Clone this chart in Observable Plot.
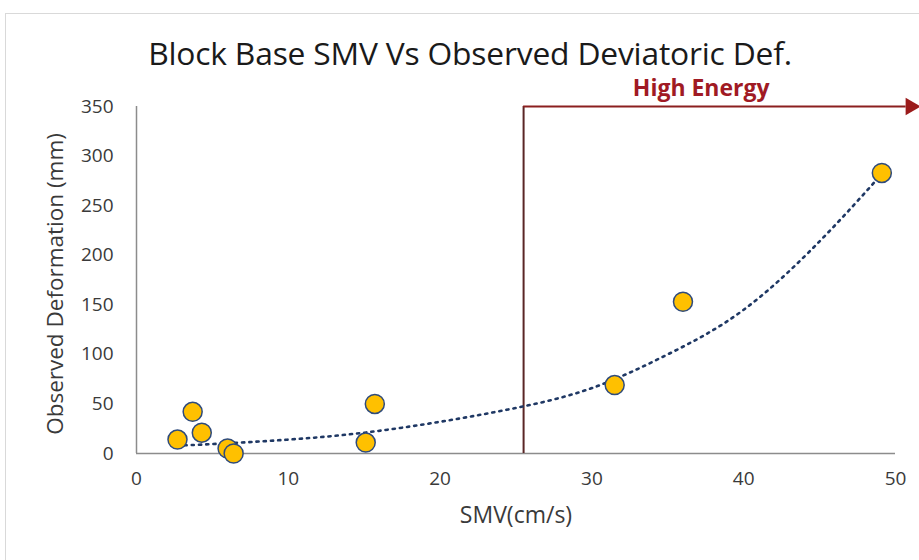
<!DOCTYPE html>
<html><head><meta charset="utf-8">
<script src="https://cdn.jsdelivr.net/npm/d3@7"></script>
<script src="https://cdn.jsdelivr.net/npm/@observablehq/plot@0.6"></script>
<style>
body{margin:0;background:#fff;}
#wrap{position:relative;width:919px;height:560px;overflow:hidden;}
#box{position:absolute;left:5px;top:13px;width:930px;height:560px;border-top:1px solid #d9d9d9;border-left:1px solid #d9d9d9;}
#title{position:absolute;left:0;width:940px;top:37px;line-height:31px;text-align:center;font-family:"Open Sans";font-size:31.8px;letter-spacing:-0.2px;color:#1a1a1a;}
#chart{position:absolute;left:0;top:0;}
</style></head><body>
<div id="wrap"><div id="box"></div><div id="title">Block Base SMV Vs Observed Deviatoric Def.</div><div id="chart"></div></div>
<script>
// Observed points
const smv = [2.7, 3.7, 4.3, 6.0, 6.4, 15.1, 15.7, 31.5, 36.0, 49.1];
const deformation = [14, 42, 21, 5, 0, 11, 50, 69, 153, 283];
// Exponential trendline
const trendSmv = [2.7, 5, 10, 15, 20, 25, 30, 35, 40, 45, 49.1];
const trendDef = [8, 9.5, 14, 21, 32, 46, 66, 100, 145, 214, 282];
// Ticks and axis titles
const xTicks = [0, 10, 20, 30, 40, 50];
const yTicks = [0, 50, 100, 150, 200, 250, 300, 350];
const xTitle = ["SMV(cm/s)"];
const yTitle = ["Observed Deformation (mm)"];
// High energy marker
const highEnergyX = [25.5];
const arrowEndX = [51.3];
const arrowY = [350];
const highEnergyLabel = ["High Energy"];
const highEnergyLabelX = [37.2];

const points = smv.map((x, i) => ({x, y: deformation[i]}));
const trend = trendSmv.map((x, i) => ({x, y: trendDef[i]}));

const font = "Open Sans";
const chart = Plot.plot({
  width: 919, height: 560,
  marginLeft: 136, marginRight: 24, marginTop: 106, marginBottom: 107,
  style: {fontFamily: font, background: "transparent", overflow: "visible"},
  x: {domain: [0, 50]},
  y: {domain: [0, 350]},
  marks: [
    Plot.axisX({ticks: xTicks, tickSize: 0, tickPadding: 18, fontSize: 19, color: "#3a3a3a", label: null}),
    Plot.axisY({ticks: yTicks, tickSize: 0, tickPadding: 23, fontSize: 19, color: "#3a3a3a", label: null}),
    Plot.text(xTitle, {frameAnchor: "bottom", dy: 69, text: d => d, fontSize: 23, fill: "#3a3a3a"}),
    Plot.text(yTitle, {frameAnchor: "left", textAnchor: "middle", dx: -81, dy: 4, rotate: -90, text: d => d, fontSize: 22.5, fill: "#3a3a3a"}),
    Plot.ruleY([0], {stroke: "#8c8c8c", strokeWidth: 1.5}),
    Plot.ruleX([0], {stroke: "#8c8c8c", strokeWidth: 1.5}),
    Plot.ruleX(highEnergyX, {y1: 0, y2: arrowY[0], stroke: "#5a2626", strokeWidth: 2}),
    Plot.ruleY(arrowY, {x1: highEnergyX[0], x2: arrowEndX[0] - 0.6, stroke: "#8b1f1f", strokeWidth: 2, clip: false}),
    Plot.dot(arrowEndX.map((x, i) => ({x, y: arrowY[i]})), {x: d => d.x - 0.3, y: "y", symbol: "triangle", rotate: 90, r: 6.5, fill: "#9b1b1b", stroke: "none"}),
    Plot.text(highEnergyLabel, {x: highEnergyLabelX, y: arrowY, text: d => d, dy: -18, fontSize: 23, fontWeight: "bold", fill: "#a01a24", fontFamily: font}),
    Plot.line(trend, {x: "x", y: "y", curve: "natural", stroke: "#1f3864", strokeWidth: 2.6, strokeDasharray: "2.2,5"}),
    Plot.dot(points, {x: "x", y: "y", r: 9.5, fill: "#ffc000", stroke: "#2f4b7c", strokeWidth: 1.5})
  ]
});
document.getElementById("chart").appendChild(chart);
</script></body></html>
